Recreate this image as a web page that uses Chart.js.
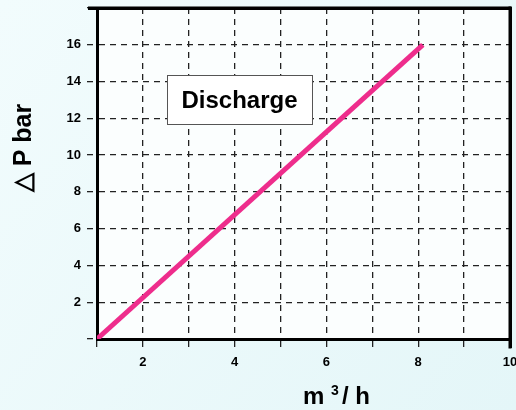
<!DOCTYPE html>
<html>
<head>
<meta charset="utf-8">
<script src="https://cdn.jsdelivr.net/npm/chart.js@4.4.0/dist/chart.umd.min.js"></script>
<style>
  html, body { margin: 0; padding: 0; background: #eaf8fa; }
  #wrap { position: relative; width: 516px; height: 410px; }
  #frame { position: absolute; box-sizing: border-box; border-top: 3px solid #000; border-right: 3px solid #000; pointer-events: none; }
</style>
</head>
<body>
<div id="wrap"><canvas id="chart" width="516" height="410"></canvas><div id="frame"></div></div>
<script>
// Datos
const flowValues = [1, 8.1];       // m3/h
const pressureValues = [0, 16];    // bar
const yTickLabels = [2, 4, 6, 8, 10, 12, 14, 16];
const xTickLabels = [2, 4, 6, 8, 10];
const boxLabel = 'Discharge';

const points = flowValues.map((x, i) => ({ x: x, y: pressureValues[i] }));

// marco superior y derecho
function drawFrame(chart) {
  const { ctx } = chart;
  const xs = chart.scales.x, ys = chart.scales.y;
  const left = xs.getPixelForValue(1);
  const right = xs.getPixelForValue(10);
  const top = ys.getPixelForValue(18);
  const bottom = ys.getPixelForValue(0);
  ctx.save();
  ctx.fillStyle = '#000';
  ctx.fillRect(left - 9, top - 1.5, right - left + 10.5, 3);
  ctx.fillRect(right - 1.5, top - 1.5, 3, bottom - top + 11);
  ctx.restore();
}

// Fondo, marco del area y cuadro de texto
const decor = {
  id: 'decor',
  beforeDraw(chart) {
    const { ctx, chartArea: a, width, height } = chart;
    ctx.save();
    const g = ctx.createLinearGradient(0, 0, width, height);
    g.addColorStop(0, '#f2fcfd');
    g.addColorStop(1, '#e4f6f8');
    ctx.fillStyle = g;
    ctx.fillRect(0, 0, width, height);
    ctx.fillStyle = '#fbfefe';
    ctx.fillRect(a.left, a.top, a.right - a.left, a.bottom - a.top);
    ctx.restore();
  },
  afterDraw(chart) {
    const { ctx } = chart;

    ctx.save();
    // cuadro "Discharge"
    ctx.fillStyle = '#ffffff';
    ctx.fillRect(167, 75, 145, 49);
    ctx.strokeStyle = '#555';
    ctx.lineWidth = 1;
    ctx.strokeRect(167.5, 75.5, 145, 49);
    ctx.fillStyle = '#000';
    ctx.font = 'bold 24px "Liberation Sans", Arial, sans-serif';
    ctx.textAlign = 'center';
    ctx.textBaseline = 'middle';
    ctx.fillText(boxLabel, 239.5, 101);

    // titulo eje Y
    ctx.save();
    ctx.translate(24, 148);
    ctx.rotate(-Math.PI / 2);
    ctx.font = 'bold 25px "Liberation Sans", Arial, sans-serif';
    ctx.fillText('\u25B3 P bar', 0, 0);
    ctx.restore();

    // titulo eje X con superindice
    ctx.textAlign = 'left';
    ctx.textBaseline = 'alphabetic';
    ctx.font = 'bold 24px "Liberation Sans", Arial, sans-serif';
    ctx.fillText('m', 303, 404);
    ctx.font = 'bold 14px "Liberation Sans", Arial, sans-serif';
    ctx.fillText('3', 331, 395);
    ctx.font = 'bold 24px "Liberation Sans", Arial, sans-serif';
    ctx.fillText('/ h', 342, 404);
    ctx.restore();

    drawFrame(chart);
  }
};

const gridStyle = {
  color: '#222',
  lineWidth: 1.3,
  tickBorderDash: [6, 5],
  tickColor: '#222',
  tickLength: 10
};

const tickFont = { family: '"Liberation Sans", Arial, sans-serif', size: 13, weight: 'bold' };

const chart = new Chart(document.getElementById('chart'), {
  type: 'scatter',
  data: {
    datasets: [{
      data: points,
      showLine: true,
      borderColor: '#ee2d8c',
      borderWidth: 5,
      pointRadius: 0,
      fill: false
    }]
  },
  options: {
    responsive: false,
    animation: false,
    layout: { padding: { top: 8, right: 6, left: 0, bottom: 0 } },
    plugins: { legend: { display: false }, tooltip: { enabled: false } },
    scales: {
      x: {
        type: 'linear',
        min: 1,
        max: 10,
        afterFit: s => { s.height = 71; s.paddingLeft = 0; s.paddingRight = 0; },
        border: { color: '#000', width: 3, dash: [6, 5] },
        grid: gridStyle,
        ticks: {
          stepSize: 1,
          padding: 6,
          color: '#000',
          maxRotation: 0,
          font: tickFont,
          callback: v => xTickLabels.includes(v) ? String(v) : ''
        }
      },
      y: {
        min: 0,
        max: 18,
        afterFit: s => { s.width = 97; s.paddingTop = 0; s.paddingBottom = 0; },
        border: { color: '#000', width: 3, dash: [6, 5] },
        grid: gridStyle,
        ticks: {
          stepSize: 2,
          padding: 6,
          color: '#000',
          font: tickFont,
          callback: v => yTickLabels.includes(v) ? String(v) : ''
        }
      }
    }
  },
  plugins: [decor]
});

// marco como respaldo, alineado con el area del grafico
const area = chart.chartArea;
const frame = document.getElementById('frame');
frame.style.left = (area.left - 9) + 'px';
frame.style.top = (area.top - 1.5) + 'px';
frame.style.width = (area.right - area.left + 10.5) + 'px';
frame.style.height = (area.bottom - area.top + 10.5) + 'px';
</script>
</body>
</html>
